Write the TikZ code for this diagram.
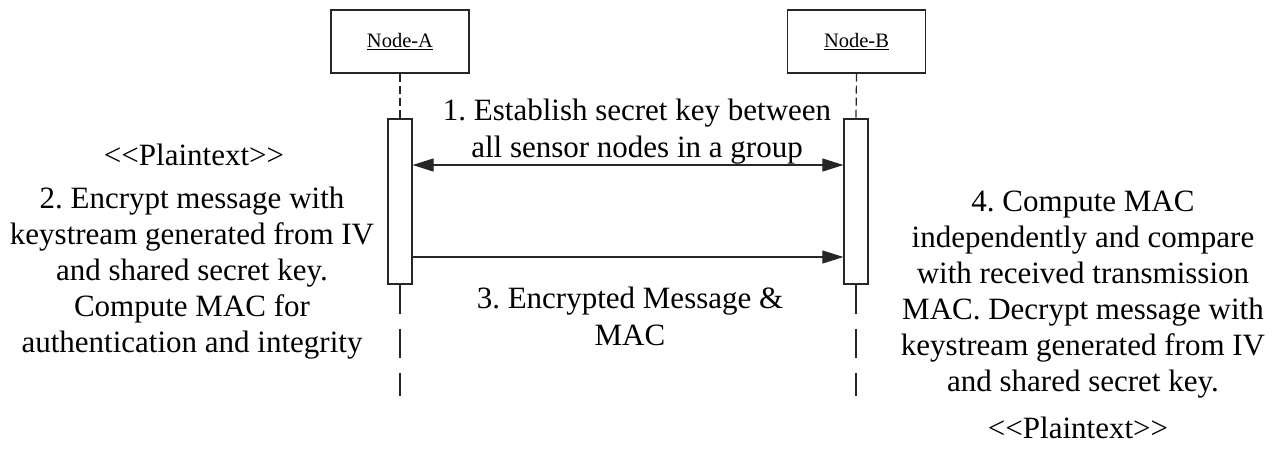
\documentclass[tikz,border=0pt]{standalone}
\usepackage{fontspec}
\setmainfont{Liberation Serif}
\frenchspacing
\usetikzlibrary{arrows.meta}
\tikzset{
  obj/.style={draw=black!85, line width=1.2pt, minimum width=138pt, minimum height=63pt, inner sep=0pt, font=\fontsize{20.5}{24}\selectfont},
  bar/.style={draw=black!85, line width=1.2pt, fill=white, minimum width=24pt, minimum height=165pt, inner sep=0pt},
  life/.style={draw=black!85, line width=1.2pt},
  toplife/.style={life, dash pattern=on 8pt off 4pt},
  lowlife/.style={life, dash pattern=on 29pt off 15pt},
  msg/.style={draw=black!85, line width=1.1pt},
  mtip/.tip={Triangle[length=21pt, width=13pt]},
  lbl/.style={align=center, inner sep=0pt, font=\fontsize{31}{36}\selectfont\frenchspacing},
  mlbl/.style={align=center, inner sep=0pt, font=\fontsize{31}{37}\selectfont\frenchspacing}
}
\newcommand{\pltxt}{<\kern0pt<Plaintext>\kern0pt>}
\begin{document}
\begin{tikzpicture}[x=1pt, y=-1pt]
\path[use as bounding box] (0,0) rectangle (1280,464);
% objects
\node[obj] (A) at (400,41.5) {\underline{Node-A}};
\node[obj] (B) at (856.5,41.5) {\underline{Node-B}};
% activation bars
\node[bar] (barA) at (400,201.5) {};
\node[bar] (barB) at (856,201.5) {};
% lifelines
\draw[toplife] (A.south) -- (barA.north);
\draw[toplife] (B.south |- A.south) -- (barB.north);
\coordinate (endA) at (400,396);
\coordinate (endB) at (856,396);
\draw[lowlife] (barA.south) -- (endA);
\draw[lowlife] (barB.south) -- (endB);
% messages
\coordinate (m1) at (0,165);
\coordinate (m3) at (0,257);
\draw[msg, mtip-mtip] (barA.east |- m1) -- (barB.west |- m1);
\draw[msg, -mtip] (barA.east |- m3) -- (barB.west |- m3);
% labels
\node[mlbl] (t1) at (637,131.3) {1. Establish secret key between\\all sensor nodes in a group};
\node[mlbl] (t3) at (630,316) {3. Encrypted Message \&\\MAC};
\node[lbl] (p1) at (194,154.6) {\pltxt};
\node[lbl] (t2) at (192,272.8) {2. Encrypt message with\\keystream generated from IV\\and shared secret key.\\Compute MAC for\\authentication and integrity};
\node[lbl] (t4) at (1083,294.8) {4. Compute MAC\\independently and compare\\with received transmission\\MAC. Decrypt message with\\keystream generated from IV\\and shared secret key.};
\node[lbl] (p2) at (1078,427.6) {\pltxt};
\end{tikzpicture}
\end{document}
